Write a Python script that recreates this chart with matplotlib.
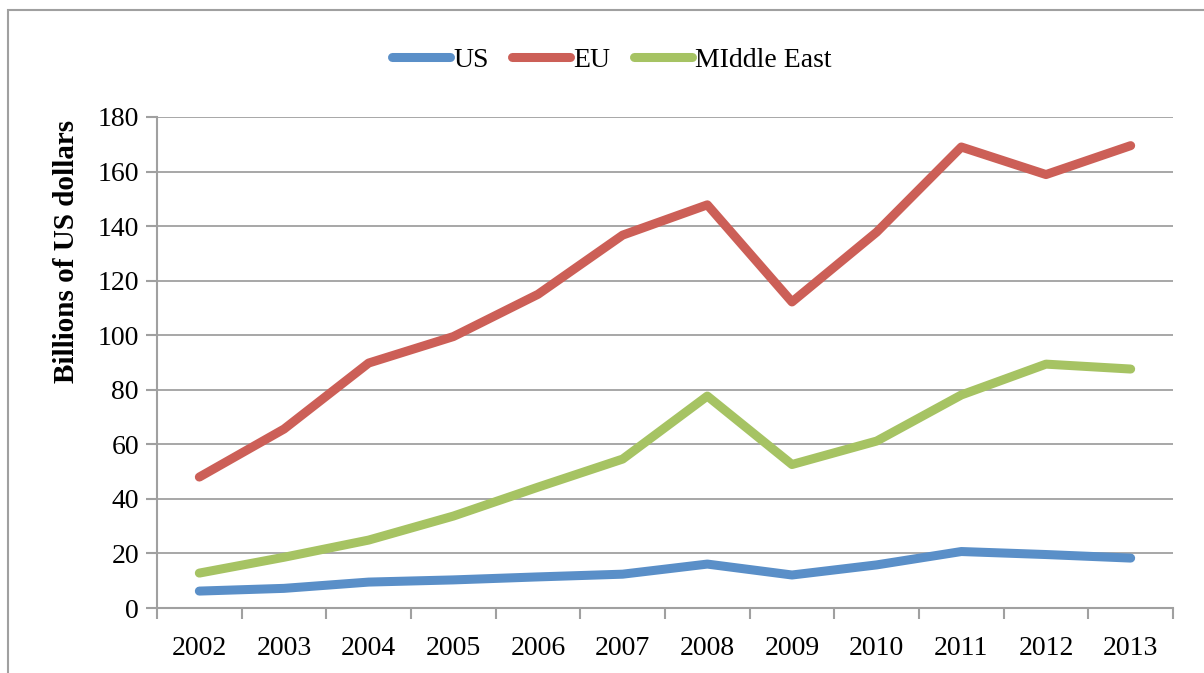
import matplotlib
matplotlib.use("Agg")
import matplotlib.pyplot as plt
from matplotlib.patches import Rectangle

years = ["2002", "2003", "2004", "2005", "2006", "2007", "2008", "2009", "2010", "2011", "2012", "2013"]
us = [6.2, 7.2, 9.5, 10.3, 11.4, 12.4, 16.1, 12.1, 15.8, 20.7, 19.6, 18.3]
eu = [48.0, 65.6, 89.8, 99.5, 115.0, 136.7, 147.8, 112.2, 137.8, 169.0, 158.9, 169.5]
me = [12.8, 18.6, 24.9, 33.7, 44.3, 54.6, 77.7, 52.6, 61.2, 78.1, 89.4, 87.6]
yticks = [0, 20, 40, 60, 80, 100, 120, 140, 160, 180]

plt.rcParams['font.family'] = ['Liberation Serif', 'DejaVu Serif']

fig = plt.figure(figsize=(12.04, 6.73), dpi=100)
W, H = 1204, 673
ax = fig.add_axes([157 / W, 1 - 608 / H, (1173 - 157) / W, (608 - 117) / H])

x = list(range(len(years)))
lw = 6.5
ax.plot(x, us, color='#5A8FC8', lw=lw, solid_capstyle='round', solid_joinstyle='round', label='US')
ax.plot(x, eu, color='#CC5F57', lw=lw, solid_capstyle='round', solid_joinstyle='round', label='EU')
ax.plot(x, me, color='#A6C363', lw=lw, solid_capstyle='round', solid_joinstyle='round', label='MIddle East')

fs = 20
ax.set_xlim(-0.5, len(years) - 0.5)
ax.set_ylim(0, 180)
ax.set_yticks(yticks)
ax.set_yticklabels([str(v) for v in yticks], fontsize=fs)
ax.set_xticks(x)
ax.set_xticklabels(years, fontsize=fs)
ax.set_xticks([i - 0.5 for i in range(len(years) + 1)], minor=True)
ax.tick_params(axis='x', which='major', length=0, pad=20)
ax.tick_params(axis='x', which='minor', length=8, width=1.5, color='#A0A0A0')
ax.tick_params(axis='y', length=8, width=1.5, color='#A0A0A0', pad=5)

ax.grid(axis='y', color='#A0A0A0', lw=1.3)
ax.set_axisbelow(True)
for s in ['top', 'right']:
    ax.spines[s].set_visible(False)
for s in ['left', 'bottom']:
    ax.spines[s].set_color('#A0A0A0')
    ax.spines[s].set_linewidth(1.5)

fig.text(67 / W, 1 - 251 / H, 'Billions of US dollars', rotation=90, ha='center', va='center',
         fontsize=21, fontweight='bold')

fig.legend(loc='center', bbox_to_anchor=(0.508, 1 - 60 / H), ncol=3, frameon=False,
           fontsize=fs, handlelength=2.1, handletextpad=0.1, columnspacing=0.85)

fig.patches.append(Rectangle((8 / W, -0.01), 1.0, 1 - 10 / H + 0.01, transform=fig.transFigure,
                             fill=False, edgecolor='#A0A0A0', lw=1.5))

fig.savefig('out.png', dpi=100)
